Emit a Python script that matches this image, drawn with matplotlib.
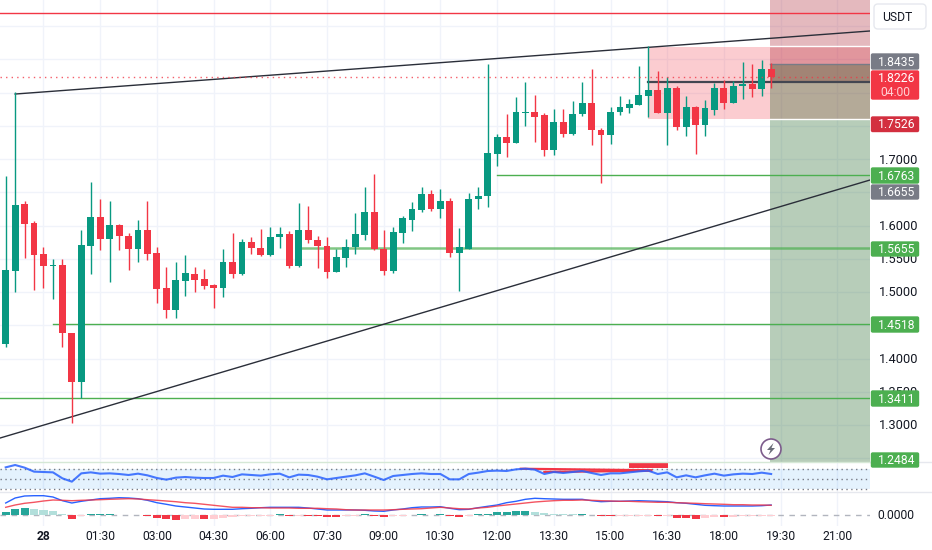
import matplotlib
matplotlib.use("Agg")
import matplotlib.pyplot as plt
from matplotlib.patches import Rectangle, Circle, FancyBboxPatch, Polygon
from matplotlib.transforms import Affine2D

plt.rcParams['font.family'] = ['Roboto', 'DejaVu Sans']

# ---------- data ----------
first_bar = -4
opens = [1.4215,1.5323,1.6320,1.6039,1.5568,1.5393,1.5403,1.4381,1.3654,1.5693,1.6124,1.5794,1.6004,1.5844,1.5648,1.5934,
         1.5583,1.5062,1.4731,1.5172,1.5273,1.5197,1.5107,1.5067,1.5448,1.5273,1.5759,1.5668,1.5558,1.5824,1.5874,1.5393,
         1.5934,1.5784,1.5698,1.5308,1.5513,1.5678,1.5864,1.6199,1.5648,1.5323,1.5894,1.6084,1.6234,1.6480,1.6250,1.6365,
         1.5588,1.5648,1.6400,1.6445,1.7076,1.7337,1.7242,1.7697,1.7707,1.7662,1.7136,1.7557,1.7372,1.7682,1.7838,1.7437,
         1.7362,1.7707,1.7773,1.7813,1.7948,1.8043,1.7697,1.8073,1.7487,1.7778,1.7517,1.7737,1.8063,1.7843,1.8098,1.8128,
         1.8053,1.8354]
closes = [1.5333,1.6305,1.6029,1.5558,1.5393,1.5403,1.4376,1.3654,1.5713,1.6124,1.5794,1.6004,1.5839,1.5648,1.5934,1.5573,
          1.5052,1.4731,1.5182,1.5283,1.5182,1.5097,1.5067,1.5448,1.5273,1.5759,1.5658,1.5558,1.5834,1.5874,1.5393,1.5934,
          1.5779,1.5693,1.5308,1.5533,1.5683,1.5874,1.6199,1.5648,1.5323,1.5904,1.6114,1.6245,1.6480,1.6250,1.6365,1.5593,
          1.5673,1.6405,1.6450,1.7086,1.7337,1.7242,1.7707,1.7707,1.7637,1.7136,1.7557,1.7377,1.7677,1.7838,1.7437,1.7362,
          1.7707,1.7783,1.7823,1.7958,1.8043,1.7697,1.8073,1.7487,1.7778,1.7517,1.7768,1.8063,1.7843,1.8103,1.8128,1.8053,
          1.8354,1.8226]
highs = [1.6746,1.8003,1.6365,1.6064,1.5683,1.5493,1.5493,1.4381,1.5934,1.6655,1.6395,1.6365,1.6024,1.5889,1.6084,1.6365,
         1.5673,1.5373,1.5453,1.5553,1.5373,1.5343,1.5122,1.5653,1.5894,1.5794,1.5834,1.5949,1.5984,1.5984,1.5914,1.6335,
         1.6295,1.5844,1.5834,1.5653,1.5804,1.6184,1.6575,1.6776,1.5934,1.5974,1.6144,1.6350,1.6585,1.6530,1.6545,1.6410,
         1.5964,1.6495,1.6575,1.8429,1.7377,1.7677,1.7933,1.8163,1.7963,1.7692,1.7748,1.7753,1.7868,1.8163,1.8359,1.7472,
         1.7783,1.7943,1.7903,1.8404,1.8694,1.8319,1.8238,1.8098,1.7943,1.7798,1.7888,1.8148,1.8188,1.8173,1.8459,1.8429,
         1.8489,1.8444]
lows = [1.4170,1.5007,1.5513,1.5032,1.5067,1.4892,1.4170,1.3028,1.3404,1.5273,1.5633,1.5157,1.5628,1.5333,1.5453,1.5483,
        1.4832,1.4611,1.4611,1.4947,1.5002,1.5047,1.4757,1.4922,1.5212,1.5263,1.5568,1.5548,1.5548,1.5658,1.5363,1.5373,
        1.5744,1.5363,1.5217,1.5303,1.5383,1.5573,1.5779,1.5633,1.5263,1.5293,1.5733,1.5924,1.6209,1.6224,1.6114,1.5528,
        1.5022,1.5643,1.6250,1.6280,1.6896,1.7031,1.7242,1.7502,1.7252,1.7046,1.7061,1.7327,1.7367,1.7647,1.7206,1.6645,
        1.7226,1.7662,1.7697,1.7813,1.7627,1.7697,1.7206,1.7442,1.7342,1.7076,1.7342,1.7662,1.7758,1.7843,1.7903,1.7933,
        1.7948,1.8073]

rsi = [73.3,78,72.7,64.7,64,63.3,51.3,44.7,61.3,63.3,60.7,61.3,60,58,60.7,57.3,52,48.7,52.7,54,52.7,52,52,56.7,54,59.3,58,
       56.7,59.3,60.7,53.3,58.7,58,54.7,49.3,52,54.7,57.3,61.3,54.7,48,56,58,60,61.3,60,60,49.3,49.3,60,62.7,66,66.7,66,69.3,
       70.7,68.7,60,64,62,64,66,62,58,61.3,61.3,63.3,65.3,66.7,60,63.3,53.3,57.3,53.3,57.3,60.7,56.7,59.3,60.7,60,62.7,60]
macd = [12,17,19,19.3,19.3,18,14.3,12,13.7,15,16.3,16.7,17.3,17,16.3,14.7,12.3,10.7,9,8,7,6,5.7,5.7,5.7,6.3,6.7,7.3,7.7,
        7.7,7.7,7.7,7,6,5,5,5,5,4.7,4,3.7,5,6,7.3,8,8,8.3,6.7,5.3,5.7,7.3,8.7,10,12.3,13.7,15.7,16.7,16.3,16,15.7,15.7,15.7,
        14.3,13.3,13.7,13.7,14,14.3,14,13.7,13.3,12.3,11.7,10.7,9.7,9.3,9,9,9,9,9.3,10]
signal = [7.7,10,11.7,12.7,14,15,14.7,14.3,14.7,15,15.3,15.7,16,16.3,16,15.3,14.7,14,13.3,12.3,11.7,10.7,9.7,8.7,7.7,7.7,
          7.3,7.3,7,7,7,6.7,6.7,6.7,6.3,6,5.3,5,5,5,5,5.3,5.7,6,6.3,7,7.7,7,6.3,6,7,7.7,9,10,11,12,13,13.7,14.3,14.7,14.7,15,
          14.7,14.3,14,13.7,13.7,13.3,13,12.7,12.7,12.3,12,11.7,11.3,11,10.7,10.3,10.3,10,10,9.7]
hist = [3.5,6,7,6,5,4,1.5,-3.5,-1,1,1,1,.5,.3,.3,-1,-3,-4,-5,-4,-4,-4,-3.5,-3,-2,-1,-1,-.7,-.5,.7,-1,-.5,-1,-1,-2,-2,-1,
        -.5,.7,-1,-2,-.7,-.5,.5,1,.5,1,-1,-2,-1,.7,1,3,3,4,4,3.5,2.5,1.5,1,.7,1,.3,-1,-1,-.7,-.5,-.5,-.7,-1,-1,-2.5,-2.5,-3.5,
        -2.5,-1.5,-2,-1.5,-1,-.7,-.5,-.5]
hist_strong = [1,1,1,0,0,0,0,1,0,1,1,1,0,0,0,1,1,1,1,0,0,1,0,0,0,0,0,0,0,1,1,0,1,1,1,1,0,0,1,1,1,0,0,0,1,0,1,1,1,0,1,1,1,1,
               1,1,0,0,0,0,0,1,0,1,1,0,0,0,0,1,0,1,1,1,0,0,1,0,0,0,0,0]

time_bars = [0,6,12,18,24,30,36,42,48,54,60,66,72,78,84]
time_labels = ['28','01:30','03:00','04:30','06:00','07:30','09:00','10:30','12:00','13:30','15:00','16:30','18:00','19:30','21:00']
axis_ticks = [1.30,1.35,1.40,1.50,1.55,1.60,1.70]
axis_tick_labels = ['1.3000','1.3500','1.4000','1.5000','1.5500','1.6000','1.7000']
grid_prices = [1.25+0.05*k for k in range(14)]

resistance = 1.9195
last_price = 1.8226
green_levels = [1.6763, 1.5655, 1.4518, 1.3411]
green_starts = [48, 27, 1, -4.6]
upper_trend_x, upper_trend_y = [-3, 87.46], [1.7977, 1.8925]
lower_trend_x, lower_trend_y = [-4.6, 87.46], [1.2804, 1.6684]

# ---------- layout helpers ----------
W, H = 932, 550
fig = plt.figure(figsize=(W/100, H/100), dpi=100, facecolor='white')
PX = Affine2D().scale(1, -1).translate(0, H)   # figure pixels, y down

def make_ax(top, bottom):
    a = fig.add_axes([0, 1-bottom/H, 870/W, (bottom-top)/H])
    a.set_xlim((0-43.5)/9.45, (870-43.5)/9.45)
    for s in a.spines.values():
        s.set_visible(False)
    a.set_xticks([]); a.set_yticks([])
    a.patch.set_alpha(0)
    for t in time_bars:
        a.axvline(t, color='#f0f3fa', lw=1, zorder=0)
    return a

def y2p(y):
    return 1.7 + (159-y)/665

TXT = '#131722'
GREEN, RED = '#089981', '#f23645'

# ---------- main pane ----------
ax = make_ax(0, 462)
ax.set_ylim(y2p(462), y2p(0))
for g in grid_prices:
    ax.axhline(g, color='#f0f3fa', lw=1, zorder=0)

xend = ax.get_xlim()[1]
pos_left = (770-43.5)/9.45

# pink box and position tool
ax.add_patch(Rectangle((64, y2p(118.6)), xend-64, y2p(47)-y2p(118.6), color=RED, alpha=.25, lw=0, zorder=1))
ax.add_patch(Rectangle((pos_left, y2p(82)), xend-pos_left, y2p(0)-y2p(82), color='#a8192a', alpha=.3, lw=0, zorder=1.2))
ax.add_patch(Rectangle((pos_left, y2p(462)), xend-pos_left, y2p(64)-y2p(462), color='#125c19', alpha=.3, lw=0, zorder=1.3))
for y in (46.3, 119.3):
    ax.plot([pos_left, xend], [y2p(y)]*2, color='white', lw=1, zorder=1.4)
ax.plot([pos_left, xend], [y2p(64)]*2, color='#787b86', lw=1, zorder=1.5)

# levels
ax.axhline(resistance, color=RED, lw=1, zorder=2)
for lv, st in zip(green_levels, green_starts):
    ax.plot([st, xend], [lv, lv], color='#4caf50', lw=1.8 if lv == 1.5655 else 1, alpha=.7 if lv == 1.5655 else 1, zorder=2)
ax.plot(upper_trend_x, upper_trend_y, color='#2a2e39', lw=1, zorder=2.2)
ax.plot(lower_trend_x, lower_trend_y, color='#2a2e39', lw=1, zorder=2.2)
ax.plot([64, xend], [y2p(82.4)]*2, color='#434651', lw=1.6, zorder=2.5)

# candles
for k, (o, h, l, c) in enumerate(zip(opens, highs, lows, closes)):
    i = first_bar + k
    col = GREEN if c >= o else RED
    ax.plot([i, i], [l, h], color=col, lw=1, solid_capstyle='butt', zorder=3)
    ax.add_patch(Rectangle((i-0.36, min(o, c)), 0.72, max(abs(c-o), 0.0016), color=col, lw=0, zorder=3.1))

# last price line
ax.plot([-4.6, xend], [last_price]*2, color=RED, lw=1, alpha=.8, ls=(0, (1, 3)), zorder=3.5)

# alert icon
fig.add_artist(Circle((771, 449), 10, transform=PX, fc='white', ec='#7d5c8c', lw=1.2, zorder=6))
fig.add_artist(Polygon([(773.5,443),(767,450),(770.5,450),(768.5,455),(775,448),(771.5,448)], transform=PX,
                       closed=True, fc='#6a6d78', ec='none', zorder=7))

# ---------- RSI pane ----------
rs = make_ax(462, 492)
rs.set_ylim(50-(492-479)*2, 50+(479-462)*2)
rs.axhspan(30, 70, color='#2196f3', alpha=.12, lw=0, zorder=1)
for lv in (70, 50, 30):
    rs.axhline(lv, color='#787b86', lw=1, ls=(0, (1, 2.5)), zorder=2)
bars = [first_bar+k for k in range(len(rsi))]
rs.plot([50.5, 64.3], [70.5, 67.5], color=RED, lw=1.6, zorder=3.2)
rs.plot([53, 64.3], [64, 66.5], color=RED, lw=1.6, zorder=3.2)
rs.plot(bars, rsi, color='#2962ff', lw=1.5, alpha=.85, zorder=4)
fig.add_artist(Rectangle((629, 462), 39, 6, transform=PX, fc=RED, ec='none', zorder=5))
fig.add_artist(plt.Line2D([0, 870], [461.7, 461.7], transform=PX, color='#d6e8d6', lw=1, zorder=5))
fig.add_artist(plt.Line2D([0, 932], [492.4, 492.4], transform=PX, color='#e6e8ee', lw=1, zorder=5))
fig.add_artist(plt.Line2D([870, 932], [461.7, 461.7], transform=PX, color='#e6e8ee', lw=1, zorder=5))

# ---------- MACD pane ----------
mc = make_ax(493, 526)
mc.set_ylim((515-526)*1.0, (515-493)*1.0)
mc.axhline(0, color='#b2b5be', lw=1, ls=(0, (4, 4)), zorder=1)
for b, v, s in zip(bars, hist, hist_strong):
    if s:
        c = '#26a69a' if v >= 0 else '#f23645'
    else:
        c = '#b2dfdb' if v >= 0 else '#ffcdd2'
    mc.bar(b, v, width=0.85, color=c, lw=0, zorder=2)
mc.plot(bars, macd, color='#2962ff', lw=1, zorder=3)
mc.plot(bars, signal, color=RED, lw=1, alpha=.85, zorder=3.5)

# ---------- right axis ----------
def axis_text(x, y, s, color=TXT, size=8.7, z=8):
    fig.text(x/W, 1-y/H, s, color=color, fontsize=size, ha='center', va='center', zorder=z)

for p, s in zip(axis_ticks, axis_tick_labels):
    axis_text(899, 160 + (1.7-p)*665, s, size=9.2, z=6.5)

boxes = [
    (53, 70, '#787b86', '1.8435'),
    (116, 132.5, '#d32f3f', '1.7526'),
    (167, 184, '#4caf50', '1.6763'),
    (184, 200, '#787b86', '1.6655'),
    (241, 257, '#4caf50', '1.5655'),
    (316, 333, '#4caf50', '1.4518'),
    (390, 407, '#4caf50', '1.3411'),
    (452, 468, '#4caf50', '1.2484'),
]
for t, b, c, s in boxes:
    fig.add_artist(FancyBboxPatch((871.5, t+1), 47, b-t-2, boxstyle='round,pad=0,rounding_size=1.2',
                                  mutation_aspect=1, transform=PX, fc=c, ec=c, lw=1, zorder=7))
    axis_text(897, (t+b)/2+0.7, s, color='white')
fig.add_artist(FancyBboxPatch((871.5, 71), 47, 28, boxstyle='round,pad=0,rounding_size=1.2',
                              transform=PX, fc=RED, ec=RED, lw=1, zorder=7))
axis_text(897, 79, '1.8226', color='white')
axis_text(895, 92, '04:00', color='#ffd0d4')

fig.add_artist(FancyBboxPatch((874, 4), 52, 25, boxstyle='round,pad=0,rounding_size=4',
                              transform=PX, fc='white', ec='#e6e8ee', lw=1, zorder=7))
axis_text(897, 17.5, 'USDT')
axis_text(896, 515.5, '0.0000')

# ---------- time axis ----------
for t, s in zip(time_bars, time_labels):
    fig.text((43.5+9.45*t)/W, 1-536/H, s, color=TXT, fontsize=8.7, ha='center', va='center',
             fontweight='bold' if s == '28' else 'normal')

fig.savefig('out.png', dpi=100, facecolor='white')
